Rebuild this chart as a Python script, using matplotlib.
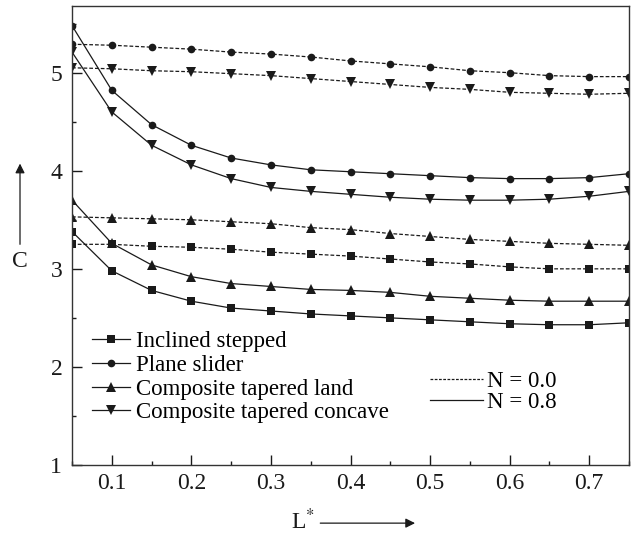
import numpy as np
import matplotlib
matplotlib.use("Agg")
import matplotlib.pyplot as plt
from matplotlib.lines import Line2D
from matplotlib.ticker import MultipleLocator

plt.rcParams['font.family'] = ['Liberation Serif', 'DejaVu Serif']
plt.rcParams['mathtext.fontset'] = 'stix'

# L* values (same for every curve)
L_star = [0.05, 0.10, 0.15, 0.20, 0.25, 0.30, 0.35, 0.40,
          0.45, 0.50, 0.55, 0.60, 0.65, 0.70, 0.75]

# N = 0.0 (dashed)
inclined_n0 = [3.25, 3.25, 3.23, 3.22, 3.20, 3.17, 3.15, 3.13,
               3.10, 3.07, 3.05, 3.02, 3.00, 3.00, 3.00]
plane_n0 = [5.29, 5.28, 5.26, 5.24, 5.21, 5.19, 5.16, 5.12,
            5.09, 5.06, 5.02, 5.00, 4.97, 4.96, 4.96]
land_n0 = [3.53, 3.52, 3.51, 3.50, 3.48, 3.46, 3.42, 3.40,
           3.36, 3.33, 3.30, 3.28, 3.26, 3.25, 3.24]
concave_n0 = [5.05, 5.04, 5.02, 5.01, 4.99, 4.97, 4.94, 4.91,
              4.88, 4.85, 4.83, 4.80, 4.79, 4.78, 4.79]

# N = 0.8 (solid)
inclined_n8 = [3.38, 2.98, 2.78, 2.67, 2.60, 2.57, 2.54, 2.52,
               2.50, 2.48, 2.46, 2.44, 2.43, 2.43, 2.45]
plane_n8 = [5.48, 4.82, 4.47, 4.26, 4.13, 4.06, 4.01, 3.99,
            3.97, 3.95, 3.93, 3.92, 3.92, 3.93, 3.97]
land_n8 = [3.70, 3.26, 3.04, 2.92, 2.85, 2.82, 2.79, 2.78,
           2.76, 2.72, 2.70, 2.68, 2.67, 2.67, 2.67]
concave_n8 = [5.21, 4.60, 4.26, 4.06, 3.92, 3.83, 3.79, 3.76,
              3.73, 3.71, 3.70, 3.70, 3.71, 3.74, 3.79]

labels = ['Inclined stepped', 'Plane slider',
          'Composite tapered land', 'Composite tapered concave']
markers = ['s', 'o', '^', 'v']
series_n0 = [inclined_n0, plane_n0, land_n0, concave_n0]
series_n8 = [inclined_n8, plane_n8, land_n8, concave_n8]

ink = '#1a1a1a'


def msize(m):
    return 5.5 if m in ('s', 'o') else 6.5


fig = plt.figure(figsize=(6.35, 5.36), dpi=100)
ax = fig.add_axes([0.1134, 0.1325, 0.8772, 0.8563])

for m, y0, y8 in zip(markers, series_n0, series_n8):
    ax.plot(L_star, y0, color=ink, linestyle=(0, (3, 1.6)), linewidth=0.9,
            marker=m, markersize=msize(m), markeredgewidth=0)
    ax.plot(L_star, y8, color=ink, linestyle='-', linewidth=0.9,
            marker=m, markersize=msize(m), markeredgewidth=0)

ax.set_xlim(0.05, 0.75)
ax.set_ylim(1, 5.68)
ax.xaxis.set_minor_locator(MultipleLocator(0.05))
ax.yaxis.set_major_locator(MultipleLocator(1))
ax.yaxis.set_minor_locator(MultipleLocator(0.5))
ax.set_xticks([0.1, 0.2, 0.3, 0.4, 0.5, 0.6, 0.7])
ax.set_xticklabels(['0.1', '0.2', '0.3', '0.4', '0.5', '0.6', '0.7'])
ax.tick_params(which='both', direction='in', top=False, right=False,
               labelsize=17, color=ink, labelcolor=ink)
ax.tick_params(which='major', length=7, width=1)
ax.tick_params(axis='x', which='major', pad=6)
ax.tick_params(axis='y', which='major', pad=7)
ax.tick_params(which='minor', length=3, width=1)
for sp in ax.spines.values():
    sp.set_linewidth(1)
    sp.set_color('#333333')

# legend of bearing types
handles1 = [Line2D([], [], color=ink, linestyle='-', linewidth=0.9,
                   marker=m, markersize=msize(m), markeredgewidth=0)
            for m in markers]
leg1 = ax.legend(handles1, labels, loc='upper left',
                 bbox_to_anchor=(0.035, 0.292), frameon=False,
                 fontsize=16.5, labelspacing=0.12, handlelength=1.7,
                 handletextpad=0.25, borderpad=0, borderaxespad=0)
ax.add_artist(leg1)

# legend of N values
handles2 = [Line2D([], [], color=ink, linestyle=(0, (2.2, 1.2)), linewidth=0.9),
            Line2D([], [], color=ink, linestyle='-', linewidth=0.9)]
ax.legend(handles2, ['N = 0.0', 'N = 0.8'], loc='upper left',
          bbox_to_anchor=(0.643, 0.205), frameon=False,
          fontsize=16.5, labelspacing=0.0, handlelength=2.3,
          handletextpad=0.2, borderpad=0, borderaxespad=0)

# axis labels with arrows
fig.text(0.0315, 0.513, 'C', fontsize=17, ha='center', va='center', color=ink)
fig.add_artist(matplotlib.patches.FancyArrowPatch(
    (0.0315, 0.539), (0.0315, 0.700), transform=fig.transFigure,
    arrowstyle='-|>', mutation_scale=14, linewidth=0.9, color=ink))
fig.text(0.477, 0.027, r'L$^{*}$', fontsize=17, ha='center', va='center', color=ink)
fig.add_artist(matplotlib.patches.FancyArrowPatch(
    (0.500, 0.024), (0.658, 0.024), transform=fig.transFigure,
    arrowstyle='-|>', mutation_scale=14, linewidth=0.9, color=ink))

fig.savefig('out.png', dpi=100)
